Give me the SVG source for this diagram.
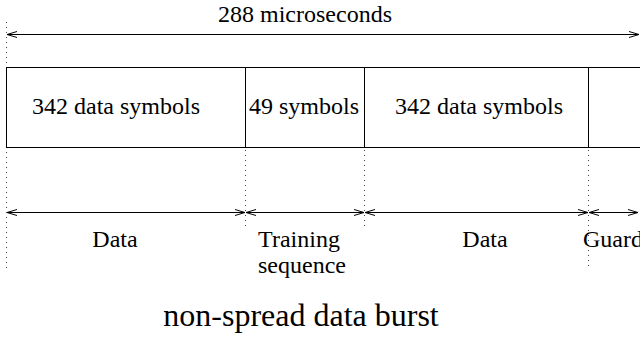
<svg xmlns="http://www.w3.org/2000/svg" width="640" height="337" viewBox="0 0 640 337">
<style>
.t{font-family:'Liberation Serif','Times New Roman',serif;font-size:24px;text-anchor:middle;fill:#000}
.big{font-family:'Liberation Serif','Times New Roman',serif;font-size:32px;text-anchor:middle;fill:#000}
.box{fill:#fff;stroke:#000;stroke-width:1}
.div{stroke:#000;stroke-width:1}
.dot{stroke:#444;stroke-width:1;stroke-dasharray:1 4;fill:none}
.arr{stroke:#000;stroke-width:1;fill:none;marker-start:url(#ah);marker-end:url(#ah)}
</style>
<defs>
<marker id="ah" viewBox="0 0 10 10" refX="10" refY="5" markerWidth="10" markerHeight="10" markerUnits="userSpaceOnUse" orient="auto-start-reverse">
<path d="M0,2 L10,5 L0,8" fill="none" stroke="#000" stroke-width="1"/>
</marker>
</defs>
<rect width="640" height="337" fill="#fff"/>
<g id="guides">
<line class="dot" x1="6.5" y1="22" x2="6.5" y2="268"/>
<line class="dot" x1="245.5" y1="150" x2="245.5" y2="226"/>
<line class="dot" x1="364.5" y1="150" x2="364.5" y2="226"/>
<line class="dot" x1="588.5" y1="150" x2="588.5" y2="268"/>
</g>
<g id="burst">
<rect class="box" x="6.5" y="67.5" width="700" height="80"/>
<line class="div" x1="245.5" y1="67.5" x2="245.5" y2="147.5"/>
<line class="div" x1="364.5" y1="67.5" x2="364.5" y2="147.5"/>
<line class="div" x1="588.5" y1="67.5" x2="588.5" y2="147.5"/>
</g>
<g id="seg1"><text class="t" x="116" y="114">342 data symbols</text></g>
<g id="seg2"><text class="t" x="304" y="114">49 symbols</text></g>
<g id="seg3"><text class="t" x="479" y="114">342 data symbols</text></g>
<g id="connectors">
<line class="arr" x1="7" y1="34.5" x2="639" y2="34.5"/>
<line class="arr" x1="7" y1="212.5" x2="245" y2="212.5"/>
<line class="arr" x1="246" y1="212.5" x2="364" y2="212.5"/>
<line class="arr" x1="365" y1="212.5" x2="588" y2="212.5"/>
<line class="arr" x1="589" y1="212.5" x2="638" y2="212.5"/>
</g>
<g id="labels">
<text class="t" x="305" y="22">288 microseconds</text>
<text class="t" x="115" y="247">Data</text>
<text class="t" x="299" y="247">Training</text>
<text class="t" x="302" y="273">sequence</text>
<text class="t" x="485" y="247">Data</text>
<text class="t" x="583" y="247" style="text-anchor:start">Guard</text>
<text class="big" x="301" y="326">non-spread data burst</text>
</g>
</svg>
